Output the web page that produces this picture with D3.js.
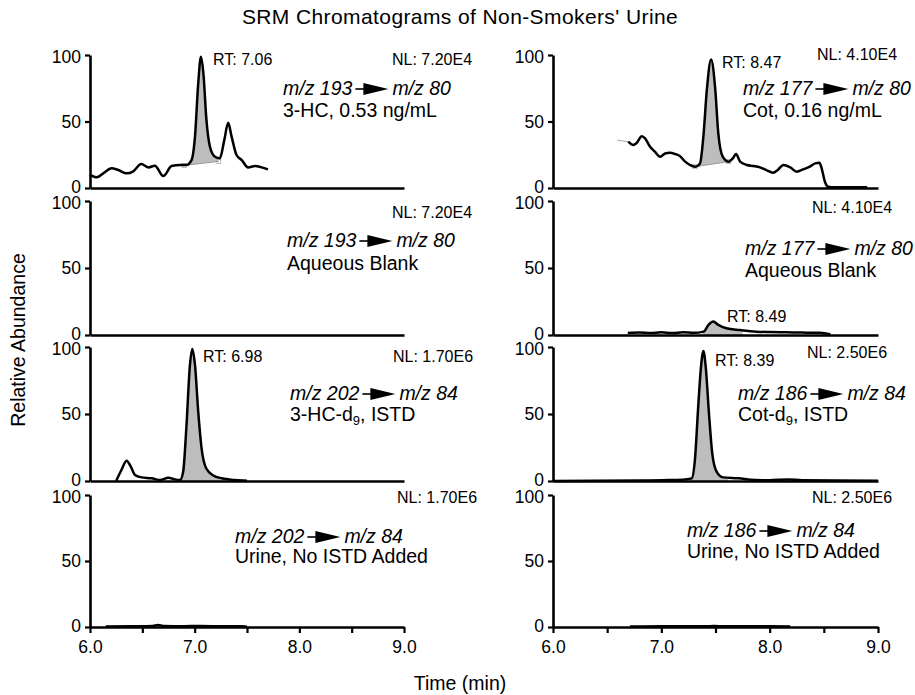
<!DOCTYPE html>
<html>
<head>
<meta charset="utf-8">
<script src="https://cdn.jsdelivr.net/npm/d3@7"></script>
<style>
  body { margin: 0; background: #fff; }
  svg { font-family: Arial, "Liberation Sans", Helvetica, sans-serif; }
</style>
</head>
<body>
<svg id="chart" width="915" height="695"></svg>
<script>
// traces: [time (min), relative abundance]
var hcUrine = [[6.0,10],[6.064,8],[6.127,11],[6.207,14.8],[6.27,13.5],[6.35,11],[6.41,12.3],[6.49,18],[6.56,15.5],[6.62,16.8],[6.70,9],[6.78,16.5],[6.86,17.3],[6.92,17.3],[6.97,21],[7.003,38.6],[7.034,78.7],[7.06,98.7],[7.086,83.7],[7.11,53.6],[7.146,31],[7.194,23.5],[7.24,22.3],[7.283,36],[7.32,49],[7.353,38.6],[7.40,24.8],[7.45,21],[7.51,15.5],[7.576,16.5],[7.64,15.5],[7.70,14]];
var hcUrineBase = [[6.90,17],[7.23,20]];

var cotUrineLead = [[6.59,36],[6.695,34.8]];
var cotUrine = [[6.695,34.8],[6.74,32.3],[6.77,33.6],[6.82,39],[6.85,37.3],[6.896,31],[6.94,27.3],[6.99,23.5],[7.034,26],[7.08,26.5],[7.126,25.6],[7.17,24],[7.22,19.8],[7.265,17.3],[7.31,16],[7.357,18.5],[7.388,38.6],[7.42,73.7],[7.459,96.7],[7.496,76],[7.526,41],[7.567,23.5],[7.62,19.8],[7.66,22.3],[7.69,25.6],[7.727,19.8],[7.79,17.3],[7.85,16.5],[7.91,15.5],[7.97,13.5],[8.03,11.5],[8.08,14],[8.127,17.3],[8.19,15.5],[8.25,12.3],[8.31,14],[8.37,16],[8.42,18.5],[8.46,19],[8.48,14.8],[8.51,4.7],[8.54,1],[8.6,0.5],[8.9,0.5]];
var cotUrineBase = [[7.31,16],[7.62,19.8]];

var cotBlank = [[6.69,1.5],[6.8,1.8],[6.9,1.4],[7.0,2],[7.1,1.5],[7.2,2],[7.3,1.6],[7.39,2.5],[7.435,7.5],[7.48,10],[7.526,7.5],[7.60,5],[7.727,3.7],[7.88,2.5],[8.0,2.2],[8.155,2],[8.3,1.8],[8.465,1.7],[8.56,0.5]];
var cotBlankBase = [[7.38,0],[7.75,0]];

var hcIstd = [[6.25,0],[6.30,8.2],[6.35,15.2],[6.39,10.7],[6.43,4.5],[6.49,2.7],[6.59,2],[6.67,0.7],[6.75,2.5],[6.796,1.5],[6.86,0.7],[6.89,6.9],[6.92,39],[6.955,86.6],[6.977,98.5],[7.003,86.6],[7.034,51.7],[7.066,24.4],[7.11,9.5],[7.18,4],[7.26,2],[7.385,0.7],[7.5,0.2]];
var hcIstdBase = [[6.88,0],[7.45,0]];

var cotIstd = [[6.0,0],[6.8,0.3],[7.065,0.7],[7.22,1.2],[7.28,2],[7.31,15.7],[7.34,55],[7.366,85],[7.388,97],[7.41,85],[7.44,50],[7.47,20.6],[7.51,7],[7.57,2.7],[7.71,2],[7.865,0.7],[8.0,0.6],[8.17,1.2],[8.3,0.5],[9.0,0.2]];
var cotIstdBase = [[7.27,0],[7.62,0]];

var hcNoIstd = [[6.15,0.3],[6.4,0.5],[6.6,0.8],[6.65,1.5],[6.7,0.8],[6.9,0.6],[7.05,0.8],[7.3,0.5],[7.45,0.5],[7.5,0.2]];
var cotNoIstd = [[6.71,0.4],[7.0,0.5],[7.45,0.6],[7.5,0.8],[7.55,0.5],[8.0,0.5],[8.19,0.4]];

var xTicks = [6.0, 6.5, 7.0, 7.5, 8.0, 8.5, 9.0];
var yTicks = [0, 50, 100];

var svg = d3.select("#chart");
var cols = [{x0: 90, x1: 404}, {x0: 553, x1: 878}];
var rows = [{y0: 55, y1: 188}, {y0: 201, y1: 335}, {y0: 347, y1: 481}, {y0: 495, y1: 627}];

// panels, with label offsets relative to each panel's top-left corner
var panels = [
  {c: 0, r: 0, trace: hcUrine, base: hcUrineBase, marks: true,
   nl: ["NL: 7.20E4", 302, 10], rt: ["RT: 7.06", 123, 10],
   mz: ["193", "80", 193, 40], sub: ["3-HC, 0.53 ng/mL", null, 193, 62]},
  {c: 1, r: 0, trace: cotUrine, lead: cotUrineLead, base: cotUrineBase, marks: true,
   nl: ["NL: 4.10E4", 264, 5], rt: ["RT: 8.47", 169, 13],
   mz: ["177", "80", 190, 40], sub: ["Cot, 0.16 ng/mL", null, 190, 62]},
  {c: 0, r: 1, trace: null,
   nl: ["NL: 7.20E4", 302, 17],
   mz: ["193", "80", 197, 46], sub: ["Aqueous Blank", null, 197, 69]},
  {c: 1, r: 1, trace: cotBlank, base: cotBlankBase,
   nl: ["NL: 4.10E4", 259, 12], rt: ["RT: 8.49", 174, 121],
   mz: ["177", "80", 192, 54], sub: ["Aqueous Blank", null, 192, 76]},
  {c: 0, r: 2, trace: hcIstd, base: hcIstdBase,
   nl: ["NL: 1.70E6", 303, 15], rt: ["RT: 6.98", 113, 15],
   mz: ["202", "84", 200, 53], sub: ["3-HC-d", "9", 200, 74, ", ISTD"]},
  {c: 1, r: 2, trace: cotIstd, base: cotIstdBase,
   nl: ["NL: 2.50E6", 254, 11], rt: ["RT: 8.39", 162, 19],
   mz: ["186", "84", 185, 53], sub: ["Cot-d", "9", 185, 74, ", ISTD"]},
  {c: 0, r: 3, trace: hcNoIstd,
   nl: ["NL: 1.70E6", 307, 8],
   mz: ["202", "84", 145, 48], sub: ["Urine, No ISTD Added", null, 145, 68]},
  {c: 1, r: 3, trace: cotNoIstd,
   nl: ["NL: 2.50E6", 259, 8],
   mz: ["186", "84", 134, 42], sub: ["Urine, No ISTD Added", null, 134, 63]}
];

function lerp(a, b, t) {
  return a[1] + (b[1] - a[1]) * (t - a[0]) / (b[0] - a[0]);
}
function valueAt(tr, t) {
  for (var i = 1; i < tr.length; i++) {
    if (tr[i][0] >= t) return lerp(tr[i - 1], tr[i], t);
  }
  return tr[tr.length - 1][1];
}

panels.forEach(function (p) {
  var col = cols[p.c], row = rows[p.r];
  var x = d3.scaleLinear().domain([6, 9]).range([col.x0, col.x1]);
  var y = d3.scaleLinear().domain([0, 100]).range([row.y1, row.y0]);
  var g = svg.append("g");

  // filled peak between trace and its integration baseline
  if (p.trace && p.base) {
    var b0 = p.base[0], b1 = p.base[1];
    var pts = [[b0[0], valueAt(p.trace, b0[0])]]
      .concat(p.trace.filter(function (d) { return d[0] > b0[0] && d[0] < b1[0]; }))
      .concat([[b1[0], valueAt(p.trace, b1[0])]]);
    var area = d3.area()
      .x(function (d) { return x(d[0]); })
      .y0(function (d) { return y(lerp(b0, b1, d[0])); })
      .y1(function (d) { return y(d[1]); })
      .curve(d3.curveMonotoneX);
    g.append("path").datum(pts).attr("d", area).attr("fill", "#bdbdbd");
    if (p.marks) {
      g.append("line")
        .attr("x1", x(b0[0])).attr("y1", y(b0[1]))
        .attr("x2", x(b1[0])).attr("y2", y(b1[1]))
        .attr("stroke", "#999").attr("stroke-width", 1);
      [b0, b1].forEach(function (b) {
        g.append("rect").attr("x", x(b[0]) - 2).attr("y", y(b[1]) - 2)
          .attr("width", 4).attr("height", 4)
          .attr("fill", "none").attr("stroke", "#aaa").attr("stroke-width", 0.8);
      });
    }
  }

  // axes
  var bottom = p.r === 3;
  var xAxis = d3.axisBottom(x).tickValues(xTicks)
    .tickSize(bottom ? 6 : 0).tickSizeOuter(0).tickPadding(8)
    .tickFormat(function (d) { return (bottom && d % 1 === 0) ? d.toFixed(1) : ""; });
  var gx = g.append("g").attr("transform", "translate(0," + row.y1 + ")").call(xAxis);
  var yAxis = d3.axisLeft(y).tickValues(yTicks).tickSize(5).tickSizeOuter(0).tickPadding(4);
  var gy = g.append("g").attr("transform", "translate(" + col.x0 + ",0)").call(yAxis);
  [gx, gy].forEach(function (a) {
    a.select(".domain").attr("stroke", "#000").attr("stroke-width", 2.6);
    a.selectAll(".tick line").attr("stroke", "#000").attr("stroke-width", 2.2);
    a.selectAll("text").attr("font-size", 17.5).attr("fill", "#000").attr("font-family", null);
  });
  gx.selectAll("text").attr("dy", "0.71em");
  // keep the "0" and the "100" of stacked panels from touching
  gy.selectAll(".tick text").attr("dy", function (d) {
    return d === 0 ? "0.25em" : (d === 100 ? "0.4em" : "0.32em");
  });

  // trace line
  var line = d3.line()
    .x(function (d) { return x(d[0]); })
    .y(function (d) { return y(d[1]); })
    .curve(d3.curveMonotoneX);
  if (p.lead) {
    g.append("path").datum(p.lead).attr("d", line)
      .attr("fill", "none").attr("stroke", "#aaa").attr("stroke-width", 1);
  }
  if (p.trace) {
    g.append("path").datum(p.trace).attr("d", line)
      .attr("fill", "none").attr("stroke", "#000").attr("stroke-width", 2.5)
      .attr("stroke-linejoin", "round");
  }

  // labels
  g.append("text").attr("x", col.x0 + p.nl[1]).attr("y", row.y0 + p.nl[2])
    .attr("font-size", 16).attr("fill", "#000").text(p.nl[0]);
  if (p.rt) {
    g.append("text").attr("x", col.x0 + p.rt[1]).attr("y", row.y0 + p.rt[2])
      .attr("font-size", 16).attr("fill", "#000").text(p.rt[0]);
  }
  var mx = col.x0 + p.mz[2], my = row.y0 + p.mz[3];
  var t1 = g.append("text").attr("x", mx).attr("y", my)
    .attr("font-size", 19.5).attr("font-style", "italic").attr("fill", "#000")
    .text("m/z " + p.mz[0]);
  var w1 = t1.node().getComputedTextLength();
  var ax = mx + w1 + 3, ay = my - 6;
  g.append("line").attr("x1", ax).attr("y1", ay).attr("x2", ax + 14).attr("y2", ay)
    .attr("stroke", "#000").attr("stroke-width", 1.6);
  g.append("path")
    .attr("d", "M" + (ax + 8) + "," + (ay - 6) + "L" + (ax + 33) + "," + ay + "L" + (ax + 8) + "," + (ay + 6) + "Z")
    .attr("fill", "#000");
  g.append("text").attr("x", ax + 37).attr("y", my)
    .attr("font-size", 19.5).attr("font-style", "italic").attr("fill", "#000")
    .text("m/z " + p.mz[1]);

  var st = g.append("text").attr("x", col.x0 + p.sub[2]).attr("y", row.y0 + p.sub[3])
    .attr("font-size", 19.5).attr("fill", "#000");
  st.append("tspan").text(p.sub[0]);
  if (p.sub[1]) {
    st.append("tspan").attr("font-size", 13).attr("dy", 4).text(p.sub[1]);
    st.append("tspan").attr("dy", -4).text(p.sub[4]);
  }
});

// titles
svg.append("text").attr("x", 460).attr("y", 24).attr("text-anchor", "middle")
  .attr("font-size", 21).attr("letter-spacing", 0.4).attr("fill", "#000")
  .text("SRM Chromatograms of Non-Smokers' Urine");
svg.append("text").attr("transform", "translate(25,340) rotate(-90)")
  .attr("text-anchor", "middle").attr("font-size", 19.5).attr("fill", "#000")
  .text("Relative Abundance");
svg.append("text").attr("x", 460).attr("y", 690).attr("text-anchor", "middle")
  .attr("font-size", 19.5).attr("fill", "#000")
  .text("Time (min)");
</script>
</body>
</html>
